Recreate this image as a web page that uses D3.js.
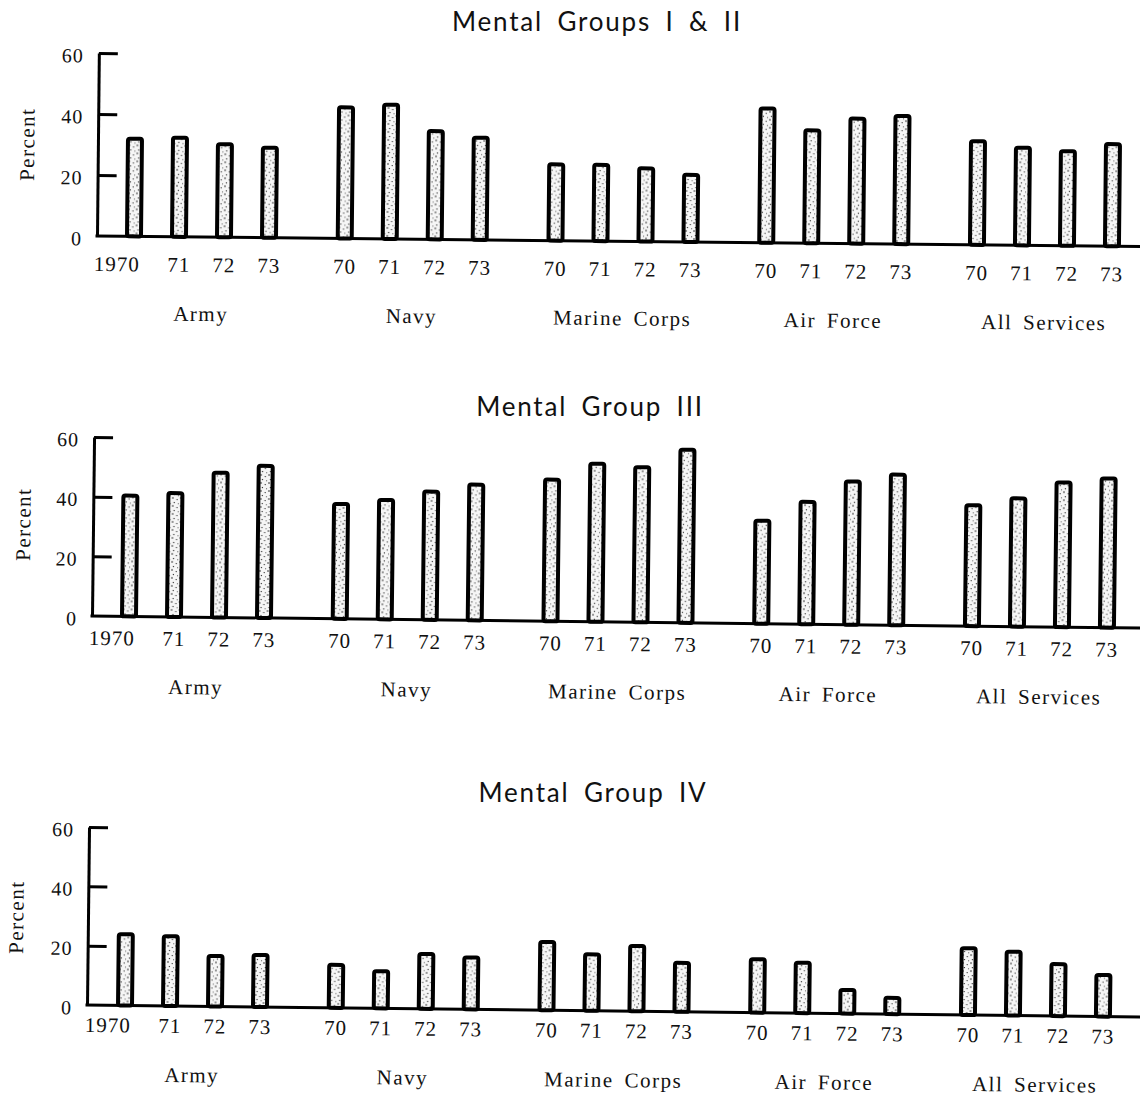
<!DOCTYPE html>
<html>
<head>
<meta charset="utf-8">
<script src="https://cdn.jsdelivr.net/npm/d3@7"></script>
<style>
  html, body { margin: 0; padding: 0; background: #fff; }
  svg { display: block; }
</style>
</head>
<body>
<script>
// ---------- data ----------
const services = ["Army", "Navy", "Marine Corps", "Air Force", "All Services"];
const years = ["1970", "1971", "1972", "1973"];
const yearLabelsFirst = ["1970", "71", "72", "73"];
const yearLabelsOther = ["70", "71", "72", "73"];
const yTicks = [0, 20, 40, 60];
const titles = ["Mental Groups  I & II", "Mental Group III", "Mental Group IV"];

// percent, rows = services, columns = years
const mg12Values = [
  [32, 32.5, 30.5, 29.5],
  [43, 44, 35.5, 33.5],
  [25, 25, 24, 22],
  [44, 37, 41, 42],
  [34, 32, 31, 33.5]
];
const mg3Values = [
  [40.5, 41.5, 48.5, 51],
  [38.5, 40, 43, 45.5],
  [47.5, 53, 52, 58],
  [34.5, 41, 48, 50.5],
  [40.5, 43, 48.5, 50]
];
const mg4Values = [
  [24, 23.5, 17, 17.5],
  [14.5, 12.5, 18.5, 17.5],
  [23, 19, 22, 16.5],
  [18, 17, 8, 5.5],
  [22.5, 21.5, 17.5, 14]
];

// ---------- layout ----------
const W = 1140, H = 1101;
const panels = [
  { title: titles[0], values: mg12Values, axisX: 97, y0: 236, y60: 53, first: 134, slope: 0.0101,
    titleX: 597, titleY: 31, yearDy: 35, groupDy: 84, pctX: 26, pctY: 145 },
  { title: titles[1], values: mg3Values, axisX: 92, y0: 616, y60: 437, first: 129, slope: 0.0115,
    titleX: 590, titleY: 416, yearDy: 29, groupDy: 77, pctX: 22, pctY: 525 },
  { title: titles[2], values: mg4Values, axisX: 87, y0: 1005, y60: 827, first: 125, slope: 0.0114,
    titleX: 593, titleY: 802, yearDy: 27, groupDy: 76, pctX: 15, pctY: 918 }
];

const svg = d3.select("body").append("svg")
  .attr("width", W).attr("height", H)
  .attr("viewBox", `0 0 ${W} ${H}`);

// stipple pattern
const defs = svg.append("defs");
const pat = defs.append("pattern").attr("id", "stip")
  .attr("width", 8).attr("height", 8).attr("patternUnits", "userSpaceOnUse");
pat.append("rect").attr("width", 8).attr("height", 8).attr("fill", "#f6f6f6");
[[1, 1, 0.8], [5.2, 2.6, 0.65], [2.4, 5.6, 0.7], [6.6, 6.8, 0.5]].forEach(([cx, cy, r]) =>
  pat.append("circle").attr("cx", cx).attr("cy", cy).attr("r", r).attr("fill", "#1a1a1a"));

const serif = "'Liberation Serif', 'Times New Roman', serif";
const sans = "Lato, 'Noto Sans', sans-serif";

const groupStep = 210.75, innerW = 180;

panels.forEach(p => {
  // title (unrotated)
  svg.append("text")
    .attr("x", p.titleX).attr("y", p.titleY)
    .attr("text-anchor", "middle")
    .attr("font-family", sans).attr("font-size", 26)
    .attr("letter-spacing", 1.8).attr("word-spacing", 6)
    .attr("fill", "#111")
    .text(p.title);

  const angle = Math.atan(p.slope) * 180 / Math.PI;
  const g = svg.append("g").attr("transform", `rotate(${angle}, ${p.axisX}, ${p.y0})`);

  const start = p.first - 22.5;
  const x0 = d3.scaleBand().domain(services)
    .range([start, start + 4 * groupStep + innerW])
    .paddingInner((groupStep - innerW) / groupStep).paddingOuter(0);
  const x1 = d3.scaleBand().domain(years).range([0, innerW])
    .paddingInner(0.6).paddingOuter(0.3);
  const y = d3.scaleLinear().domain([0, 60]).range([p.y0, p.y60]);

  // y axis
  const yAxis = d3.axisLeft(y).tickValues(yTicks)
    .tickSizeInner(-19).tickSizeOuter(0).tickPadding(15)
    .tickFormat(d3.format("d"));
  const ax = g.append("g").attr("transform", `translate(${p.axisX},0)`).call(yAxis);
  ax.select(".domain").attr("stroke", "#000").attr("stroke-width", 3);
  ax.selectAll(".tick line").attr("stroke", "#000").attr("stroke-width", 3)
    .attr("display", d => d === 0 ? "none" : null);
  ax.selectAll(".tick text")
    .attr("font-family", serif).attr("font-size", 20).attr("fill", "#111")
    .attr("letter-spacing", 1).attr("dy", "0.45em");

  // baseline
  g.append("line")
    .attr("x1", p.axisX - 1.5).attr("x2", W + 20)
    .attr("y1", y(0)).attr("y2", y(0))
    .attr("stroke", "#000").attr("stroke-width", 3);

  // Percent label
  g.append("text")
    .attr("transform", `translate(${p.pctX},${p.pctY}) rotate(-90)`)
    .attr("text-anchor", "middle").attr("dy", "0.35em")
    .attr("font-family", serif).attr("font-size", 21).attr("letter-spacing", 1.5)
    .attr("fill", "#111")
    .text("Percent");

  // groups
  const grp = g.selectAll("g.grp").data(services).join("g").attr("class", "grp")
    .attr("transform", d => `translate(${x0(d)},0)`);

  const sw = 4;
  grp.selectAll("rect").data((s, i) => p.values[i].map((v, j) => ({ year: years[j], v })))
    .join("rect")
    .attr("x", d => x1(d.year) + sw / 2)
    .attr("width", x1.bandwidth() - sw)
    .attr("y", d => y(d.v))
    .attr("height", d => y(0) - y(d.v))
    .attr("rx", 2)
    .attr("fill", "url(#stip)")
    .attr("stroke", "#000").attr("stroke-width", sw);

  grp.selectAll("text.yr").data((s, i) => (i === 0 ? yearLabelsFirst : yearLabelsOther).map((t, j) => ({ t, j })))
    .join("text").attr("class", "yr")
    .attr("x", d => x1(years[d.j]) + x1.bandwidth() / 2 - (d.t.length === 4 ? 17 : 0))
    .attr("y", p.y0 + p.yearDy)
    .attr("text-anchor", "middle")
    .attr("font-family", serif).attr("font-size", 21).attr("letter-spacing", 1)
    .attr("fill", "#111")
    .text(d => d.t);

  grp.append("text")
    .attr("x", innerW / 2)
    .attr("y", p.y0 + p.groupDy)
    .attr("text-anchor", "middle")
    .attr("font-family", serif).attr("font-size", 21)
    .attr("letter-spacing", 1.5).attr("word-spacing", 4)
    .attr("fill", "#111")
    .text(d => d);
});
</script>
</body>
</html>
